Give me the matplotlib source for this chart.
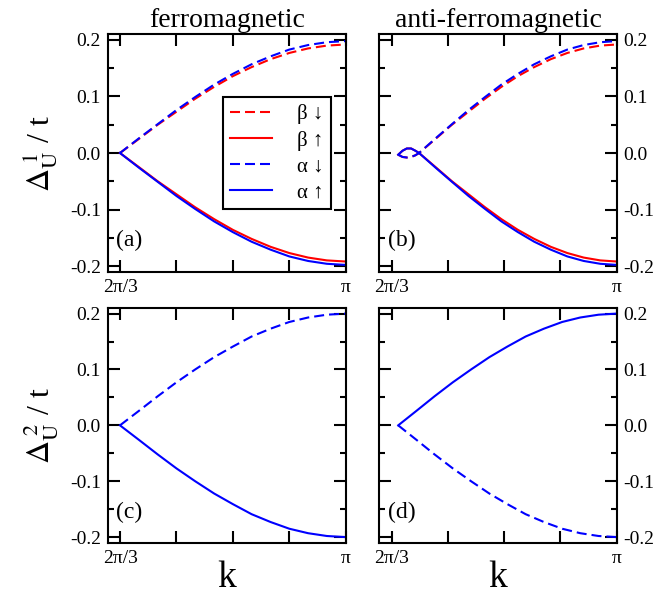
import numpy as np
import matplotlib
matplotlib.use("Agg")
import matplotlib.pyplot as plt
from matplotlib.ticker import FixedLocator, MultipleLocator

plt.rcParams['font.family'] = ['Liberation Serif', 'DejaVu Serif']
plt.rcParams['mathtext.fontset'] = 'stix'

# ---------------- data ----------------
# ferromagnetic k grid (2pi/3 .. pi)
k_fm = [2.094, 2.182, 2.269, 2.356, 2.443, 2.531, 2.618, 2.705, 2.793, 2.880, 2.967, 3.054, 3.142]
fm_alpha = [0.000, 0.026, 0.051, 0.076, 0.099, 0.121, 0.140, 0.157, 0.171, 0.183, 0.191, 0.196, 0.198]
fm_beta = [0.000, 0.025, 0.050, 0.073, 0.096, 0.117, 0.136, 0.152, 0.166, 0.177, 0.185, 0.190, 0.192]

# anti-ferromagnetic: small loop near 2pi/3, then branches
k_afm = [2.125, 2.145, 2.165, 2.185, 2.205, 2.222, 2.299, 2.375, 2.452, 2.529, 2.605,
         2.682, 2.758, 2.835, 2.912, 2.988, 3.065, 3.142]
afm_alpha_up = [-0.003, 0.004, 0.008, 0.008, 0.004, 0.000, -0.026, -0.051, -0.076, -0.099,
                -0.121, -0.140, -0.157, -0.171, -0.183, -0.191, -0.196, -0.198]
afm_alpha_dn = [-0.003, -0.007, -0.008, -0.007, -0.004, 0.000, 0.026, 0.051, 0.076, 0.099,
                0.121, 0.140, 0.157, 0.171, 0.183, 0.191, 0.196, 0.198]
afm_beta_up = [-0.003, 0.004, 0.008, 0.008, 0.004, 0.000, -0.025, -0.050, -0.073, -0.096,
               -0.117, -0.136, -0.152, -0.166, -0.177, -0.185, -0.190, -0.192]
afm_beta_dn = [-0.003, -0.007, -0.008, -0.007, -0.004, 0.000, 0.025, 0.050, 0.073, 0.096,
               0.117, 0.136, 0.152, 0.166, 0.177, 0.185, 0.190, 0.192]

# second gap
fm2_dn = [0.000, 0.026, 0.052, 0.077, 0.100, 0.122, 0.141, 0.159, 0.173, 0.185, 0.193, 0.198, 0.200]
fm2_up = [-v for v in fm2_dn]
k_afm2 = [2.125, 2.210, 2.294, 2.379, 2.464, 2.549, 2.633, 2.718, 2.803, 2.888, 2.972, 3.057, 3.142]
afm2_up = [0.000, 0.026, 0.052, 0.077, 0.100, 0.122, 0.141, 0.159, 0.173, 0.185, 0.193, 0.198, 0.200]
afm2_dn = [-v for v in afm2_up]

titles = ["ferromagnetic", "anti-ferromagnetic"]
panel_labels = ["(a)", "(b)", "(c)", "(d)"]
xtick_labels = ["2π/3", "", "", "", "π"]
leg_labels = ["β ↓", "β ↑", "α ↓", "α ↑"]

# ---------------- figure ----------------
W, H = 669, 600
fig = plt.figure(figsize=(W / 100, H / 100), dpi=100)

def px_axes(l, r, t, b):
    return fig.add_axes([l / W, 1 - b / H, (r - l) / W, (b - t) / H])

axa = px_axes(107.7, 345.7, 34.3, 271.7)
axb = px_axes(379.3, 616.7, 34.3, 271.7)
axc = px_axes(107.7, 345.7, 308.0, 542.7)
axd = px_axes(379.3, 616.7, 308.0, 542.7)
axes = [axa, axb, axc, axd]

RED = '#ff0000'
BLUE = '#0000ff'
LW = 1.5
DASH = (0, (4.8, 2.4))

xticks = [2 * np.pi / 3 + i * np.pi / 12 for i in range(5)]

for i, ax in enumerate(axes):
    ax.set_xlim(2.037, np.pi)
    ax.set_ylim(-0.21, 0.21)
    ax.xaxis.set_major_locator(FixedLocator(xticks))
    ax.set_xticklabels(xtick_labels)
    ax.yaxis.set_major_locator(MultipleLocator(0.1))
    ax.yaxis.set_minor_locator(MultipleLocator(0.05))
    ax.set_yticks([-0.2, -0.1, 0.0, 0.1, 0.2])
    ax.set_yticklabels(['-0.2', '-0.1', '0.0', '0.1', '0.2'])
    ax.tick_params(which='both', direction='in', top=True, right=True, bottom=True, left=True,
                   width=1.5, labelsize=14)
    ax.tick_params(which='major', length=8.5, pad=5)
    ax.tick_params(which='minor', length=4)
    if i in (1, 3):
        ax.tick_params(labelleft=False, labelright=True)
    for s in ax.spines.values():
        s.set_linewidth(1.5)
    ax.text(0.035, 0.13, panel_labels[i], transform=ax.transAxes, fontsize=17,
            ha='left', va='center')

# (a)
axa.plot(k_fm, fm_beta, color=RED, lw=LW, linestyle=DASH, label=leg_labels[0])
axa.plot(k_fm, [-v for v in fm_beta], color=RED, lw=LW, label=leg_labels[1])
axa.plot(k_fm, fm_alpha, color=BLUE, lw=LW, linestyle=DASH, label=leg_labels[2])
axa.plot(k_fm, [-v for v in fm_alpha], color=BLUE, lw=LW, label=leg_labels[3])

# (b)
axb.plot(k_afm, afm_beta_dn, color=RED, lw=LW, linestyle=DASH)
axb.plot(k_afm, afm_beta_up, color=RED, lw=LW)
axb.plot(k_afm, afm_alpha_dn, color=BLUE, lw=LW, linestyle=DASH)
axb.plot(k_afm, afm_alpha_up, color=BLUE, lw=LW)

# (c)
axc.plot(k_fm, fm2_dn, color=BLUE, lw=LW, linestyle=DASH)
axc.plot(k_fm, fm2_up, color=BLUE, lw=LW)

# (d)
axd.plot(k_afm2, afm2_dn, color=BLUE, lw=LW, linestyle=DASH)
axd.plot(k_afm2, afm2_up, color=BLUE, lw=LW)

leg = axa.legend(loc='upper left', bbox_to_anchor=(0.483, 0.736), borderaxespad=0,
                 fontsize=15, handlelength=2.0, fancybox=False, framealpha=1,
                 edgecolor='black', labelspacing=0.3, borderpad=0.35, handletextpad=1.2)
leg.get_frame().set_linewidth(1.5)

axa.set_title(titles[0], fontsize=20, pad=5)
axb.set_title(titles[1], fontsize=20, pad=5)

axa.set_ylabel(r'$\Delta_{\rm U}^{\ 1}$ / t', fontsize=23)
axc.set_ylabel(r'$\Delta_{\rm U}^{\ 2}$ / t', fontsize=23)
axa.yaxis.set_label_coords(-0.2, 0.5)
axc.yaxis.set_label_coords(-0.2, 0.5)

axc.set_xlabel('k', fontsize=27)
axd.set_xlabel('k', fontsize=27)
axc.xaxis.set_label_coords(0.5, -0.075)
axd.xaxis.set_label_coords(0.5, -0.075)

fig.savefig('out.png', dpi=100)
